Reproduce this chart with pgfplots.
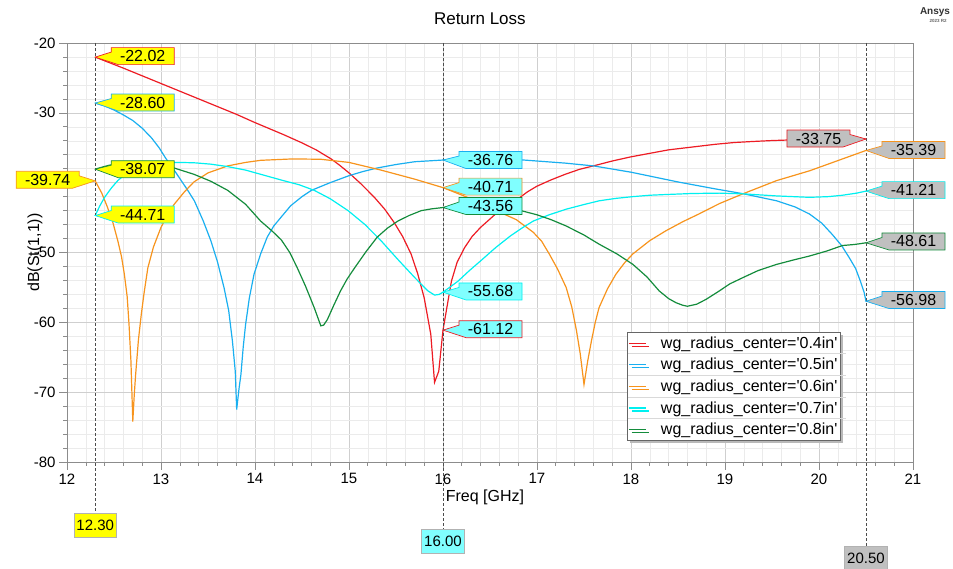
\documentclass[border=0pt]{standalone}
\usepackage{pgfplots}
\pgfplotsset{compat=1.18}
\usepackage{fontspec}
\setmainfont{Liberation Sans}
\usetikzlibrary{shadows}

\definecolor{c04}{RGB}{237,28,36}
\definecolor{c05}{RGB}{25,175,240}
\definecolor{c06}{RGB}{247,148,29}
\definecolor{c07}{RGB}{0,240,240}
\definecolor{c08}{RGB}{20,140,60}
\definecolor{mkyellow}{RGB}{255,255,0}
\definecolor{mkcyan}{RGB}{128,255,255}
\definecolor{mkgray}{RGB}{192,192,192}

% value callout: #1,#2 marker point; #3 side (1 right, -1 left); #4 fill; #5 outline; #6 text; #7 box offset (pt)
\newcommand{\callout}[7]{%
  \draw[draw=#5, fill=#4, line width=0.7pt, line join=miter]
    (axis cs:#1,#2) -- ++({#3*16pt},{#7pt+4pt}) -- ++(0pt,4.5pt) -- ++({#3*63pt},0pt)
    -- ++(0pt,-17pt) -- ++({#3*(-56pt)},0pt) -- cycle;
  \path (axis cs:#1,#2) ++({#3*47.5pt},{#7pt}) node[font=\fontsize{16}{16}\selectfont, inner sep=0pt] {#6};
}

\begin{document}
\begin{tikzpicture}[x=1pt,y=1pt]
\useasboundingbox (0,0) rectangle (953,569);
\begin{axis}[
  at={(67pt,107pt)}, anchor=south west,
  width=846pt, height=419pt, scale only axis,
  xmin=12, xmax=21, ymin=-80, ymax=-20,
  xtick={12,...,21}, ytick={-80,-70,...,-20},
  minor x tick num=4, minor y tick num=4,
  grid=both,
  major grid style={draw=gray!38, line width=0.6pt},
  minor grid style={draw=gray!16, line width=0.5pt},
  axis line style={draw=gray!90, line width=0.8pt},
  tick style={draw=gray!90, line width=0.6pt},
  tick align=outside, tick pos=left,
  major tick length=8pt, minor tick length=4pt,
  clip=false,
  ticklabel style={font=\fontsize{15}{15}\selectfont},
  /pgf/number format/assume math mode=true,
  xlabel={Freq [GHz]}, ylabel={dB(St(1,1))},
  label style={font=\fontsize{16}{16}\selectfont},
  xlabel style={at={(axis description cs:0.494,0)}, anchor=center, yshift=-35pt},
  ylabel style={at={(axis description cs:-0.0378,0.5)}, anchor=center},
  title={Return Loss},
  title style={at={(axis description cs:0.488,1)}, anchor=center, yshift=18pt, font=\fontsize{17}{17}\selectfont},
  legend style={
    at={(axis description cs:0.662,0.310)}, anchor=north west,
    draw=gray!80!black, fill=white, line width=0.6pt,
    drop shadow={shadow xshift=3pt, shadow yshift=-3pt, fill=gray!55, opacity=1},
    inner xsep=1pt, inner ysep=0pt, row sep=0pt,
    nodes={inner xsep=2pt, inner ysep=0pt, minimum height=21.6pt, font=\fontsize{16}{16}\selectfont},
  },
  legend cell align=left,
  legend image code/.code={\draw[#1] (0pt,0pt) -- (17pt,0pt);
    \node[inner sep=0pt, outer sep=0pt, minimum size=0pt] at (30pt,0pt) {};},
  every axis plot/.append style={line width=1.2pt},
]
\addplot[c04] coordinates {
(12.3,-22.02)(12.6,-23.6)(13.0,-25.8)(13.4,-28.0)(13.8,-30.2)(14.0,-31.4)(14.3,-33.1)
(14.5,-34.3)(14.65,-35.3)(14.81,-36.6)(14.9,-37.5)(15.0,-38.6)(15.13,-40.2)(15.27,-42.1)
(15.38,-43.8)(15.48,-45.7)(15.57,-47.7)(15.66,-50.2)(15.73,-53.0)(15.80,-56.5)(15.87,-61.7)
(15.91,-68.6)(15.955,-67.0)(16.0,-61.12)(16.05,-57.2)(16.09,-54.1)(16.15,-51.4)(16.23,-49.3)
(16.31,-47.7)(16.40,-46.4)(16.55,-44.6)(16.66,-43.5)(16.78,-42.5)(16.9,-41.3)(17.0,-40.5)
(17.15,-39.6)(17.3,-38.8)(17.45,-38.1)(17.6,-37.6)(17.8,-36.9)(18.0,-36.3)(18.2,-35.8)
(18.4,-35.3)(18.65,-34.9)(18.9,-34.5)(19.1,-34.25)(19.3,-34.1)(19.5,-33.97)(19.7,-33.88)
(20.1,-33.8)(20.5,-33.75)};
\addlegendentry{wg\_radius\_center=\textquotesingle 0.4in\textquotesingle}
\addplot[c05] coordinates {
(12.3,-28.60)(12.4,-29.0)(12.5,-29.6)(12.6,-30.3)(12.7,-31.1)(12.8,-32.2)(12.9,-33.6)
(12.98,-35.0)(13.05,-36.5)(13.13,-38.0)(13.2,-39.4)(13.28,-41.0)(13.355,-42.6)(13.45,-45.5)
(13.53,-48.3)(13.6,-51.3)(13.67,-55.0)(13.72,-58.3)(13.76,-62.7)(13.79,-67.0)(13.805,-72.5)
(13.83,-69.5)(13.85,-67.5)(13.875,-63.5)(13.90,-60.3)(13.94,-56.5)(13.99,-53.1)(14.06,-50.2)
(14.13,-47.8)(14.2,-46.2)(14.28,-44.9)(14.38,-43.3)(14.5,-42.0)(14.6,-41.1)(14.8,-40.0)
(15.0,-39.0)(15.15,-38.4)(15.3,-37.9)(15.5,-37.4)(15.7,-37.0)(16.0,-36.76)(16.4,-36.62)
(16.8,-36.7)(17.3,-37.2)(17.6,-37.6)(18.0,-38.5)(18.5,-39.9)(18.9,-40.9)(19.2,-41.6)
(19.55,-42.6)(19.75,-43.5)(19.9,-44.5)(20.03,-45.8)(20.14,-47.4)(20.24,-49.0)(20.32,-50.7)
(20.39,-52.3)(20.44,-54.1)(20.48,-55.7)(20.5,-56.98)};
\addlegendentry{wg\_radius\_center=\textquotesingle 0.5in\textquotesingle}
\addplot[c06] coordinates {
(12.3,-39.74)(12.37,-41.5)(12.43,-43.5)(12.49,-45.8)(12.54,-48.3)(12.58,-50.6)(12.61,-53.1)
(12.64,-56.3)(12.66,-60.3)(12.68,-65.5)(12.70,-74.2)(12.715,-70.5)(12.73,-67.5)(12.76,-62.5)
(12.79,-58.9)(12.82,-55.8)(12.86,-52.2)(12.92,-49.2)(13.0,-46.4)(13.07,-44.6)(13.14,-43.1)
(13.25,-41.3)(13.35,-39.9)(13.5,-38.6)(13.71,-37.6)(13.9,-37.1)(14.06,-36.8)(14.4,-36.6)
(14.7,-36.65)(15.0,-37.1)(15.34,-38.2)(15.7,-39.5)(16.0,-40.71)(16.26,-42.1)(16.5,-43.6)
(16.78,-45.3)(16.96,-47.1)(17.05,-48.4)(17.13,-50.2)(17.22,-52.4)(17.31,-55.0)(17.37,-57.8)
(17.42,-61.2)(17.46,-64.5)(17.50,-68.9)(17.54,-65.5)(17.58,-62.6)(17.62,-60.0)(17.66,-57.9)
(17.75,-55.2)(17.84,-53.1)(17.93,-51.5)(18.02,-50.2)(18.2,-48.3)(18.37,-46.9)(18.55,-45.6)
(18.72,-44.5)(18.94,-43.0)(19.19,-41.6)(19.55,-39.7)(19.90,-38.3)(20.25,-36.6)(20.5,-35.39)};
\addlegendentry{wg\_radius\_center=\textquotesingle 0.6in\textquotesingle}
\addplot[c07] coordinates {
(12.3,-44.71)(12.35,-43.3)(12.4,-42.1)(12.47,-40.8)(12.54,-39.7)(12.63,-38.7)(12.72,-38.0)
(12.85,-37.5)(13.0,-37.2)(13.18,-37.1)(13.35,-37.15)(13.53,-37.35)(13.71,-37.7)(13.9,-38.2)
(14.06,-38.8)(14.3,-39.7)(14.47,-40.3)(14.63,-41.1)(14.8,-42.3)(14.99,-44.0)(15.17,-46.0)
(15.34,-48.3)(15.52,-51.0)(15.70,-53.6)(15.78,-54.7)(15.84,-55.5)(15.91,-56.1)(15.96,-56.0)
(16.0,-55.68)(16.08,-54.9)(16.16,-54.1)(16.28,-52.6)(16.40,-51.2)(16.56,-49.3)(16.72,-47.6)
(16.84,-46.5)(16.96,-45.5)(17.13,-44.6)(17.31,-43.8)(17.48,-43.2)(17.66,-42.6)(17.84,-42.25)
(18.02,-42.0)(18.2,-41.8)(18.37,-41.7)(18.65,-41.55)(18.94,-41.5)(19.19,-41.6)(19.55,-41.9)
(19.90,-42.1)(20.1,-42.0)(20.25,-41.8)(20.4,-41.5)(20.5,-41.21)};
\addlegendentry{wg\_radius\_center=\textquotesingle 0.7in\textquotesingle}
\addplot[c08] coordinates {
(12.3,-38.07)(12.38,-37.75)(12.45,-37.5)(12.55,-37.3)(12.65,-37.2)(12.75,-37.15)(12.85,-37.2)
(12.93,-37.35)(13.0,-37.5)(13.14,-37.9)(13.35,-38.8)(13.53,-39.8)(13.71,-41.1)(13.9,-43.1)
(14.06,-45.5)(14.18,-46.9)(14.28,-48.2)(14.37,-50.0)(14.45,-52.2)(14.54,-54.9)(14.63,-57.9)
(14.70,-60.5)(14.73,-60.4)(14.77,-59.6)(14.84,-57.5)(14.91,-55.5)(14.98,-53.8)(15.06,-52.2)
(15.18,-49.9)(15.30,-47.8)(15.41,-46.5)(15.52,-45.5)(15.64,-44.7)(15.77,-44.0)(15.88,-43.75)
(16.0,-43.56)(16.25,-43.35)(16.5,-43.45)(16.8,-43.9)(17.0,-44.6)(17.15,-45.3)(17.31,-46.2)
(17.5,-47.5)(17.66,-48.8)(17.85,-50.2)(18.02,-51.7)(18.17,-53.5)(18.30,-55.5)(18.4,-56.6)
(18.48,-57.2)(18.55,-57.55)(18.60,-57.7)(18.7,-57.4)(18.80,-56.7)(18.94,-55.5)(19.05,-54.5)
(19.19,-53.6)(19.35,-52.6)(19.55,-51.7)(19.72,-51.1)(19.90,-50.5)(20.08,-49.8)(20.25,-49.0)
(20.38,-48.85)(20.5,-48.61)};
\addlegendentry{wg\_radius\_center=\textquotesingle 0.8in\textquotesingle}

% marker lines and their frequency tags
\draw[gray!60!black, line width=0.5pt, dash pattern=on 3pt off 2pt] (axis cs:12.3,-20) -- (axis cs:12.3,-87.3);
\draw[gray!60!black, line width=0.5pt, dash pattern=on 3pt off 2pt] (axis cs:16,-20) -- (axis cs:16,-89.7);
\draw[gray!60!black, line width=0.5pt, dash pattern=on 3pt off 2pt] (axis cs:20.5,-20) -- (axis cs:20.5,-92.2);
\node[fill=mkyellow, draw=gray!60, line width=0.5pt, inner xsep=2.5pt, minimum height=24pt, font=\fontsize{15}{15}\selectfont] at (axis cs:12.3,-89.0) {12.30};
\node[fill=mkcyan, draw=gray!60, line width=0.5pt, inner xsep=2.5pt, minimum height=24pt, font=\fontsize{15}{15}\selectfont] at (axis cs:16,-91.4) {16.00};
\node[fill=mkgray, draw=gray!60, line width=0.5pt, inner xsep=2.5pt, minimum height=24pt, font=\fontsize{15}{15}\selectfont] at (axis cs:20.5,-93.75) {20.50};

% marker values at 12.30 GHz
\callout{12.3}{-22.02}{1}{mkyellow}{c04}{-22.02}{1}
\callout{12.3}{-28.60}{1}{mkyellow}{c05}{-28.60}{0.5}
\callout{12.3}{-38.07}{1}{mkyellow}{c08}{-38.07}{0}
\callout{12.3}{-44.71}{1}{mkyellow}{c07}{-44.71}{1}
\callout{12.3}{-39.74}{-1}{mkyellow}{c06}{-39.74}{1}
% marker values at 16.00 GHz
\callout{16}{-36.76}{1}{mkcyan}{c05}{-36.76}{0}
\callout{16}{-40.71}{1}{mkcyan}{c06}{-40.71}{1}
\callout{16}{-43.56}{1}{mkcyan}{c08}{-43.56}{1.5}
\callout{16}{-55.68}{1}{mkcyan}{c07}{-55.68}{0.7}
\callout{16}{-61.12}{1}{mkcyan}{c04}{-61.12}{1}
% marker values at 20.50 GHz
\callout{20.5}{-33.75}{-1}{mkgray}{c04}{-33.75}{0.5}
\callout{20.5}{-35.39}{1}{mkgray}{c06}{-35.39}{0.5}
\callout{20.5}{-41.21}{1}{mkgray}{c07}{-41.21}{1}
\callout{20.5}{-48.61}{1}{mkgray}{c08}{-48.61}{1.3}
\callout{20.5}{-56.98}{1}{mkgray}{c05}{-56.98}{1.2}
\end{axis}

% row separators inside the legend box
\foreach \k in {1,...,4} {
  \draw[gray!30, line width=0.5pt] (628,{237-21.6*\k}) -- (846,{237-21.6*\k});
}

\node[font=\bfseries\fontsize{10}{10}\selectfont, text=black!80] at (935,557) {Ansys};
\node[font=\bfseries\fontsize{4.5}{5}\selectfont, text=black!60] at (938,548) {2023 R2};
\end{tikzpicture}
\end{document}
